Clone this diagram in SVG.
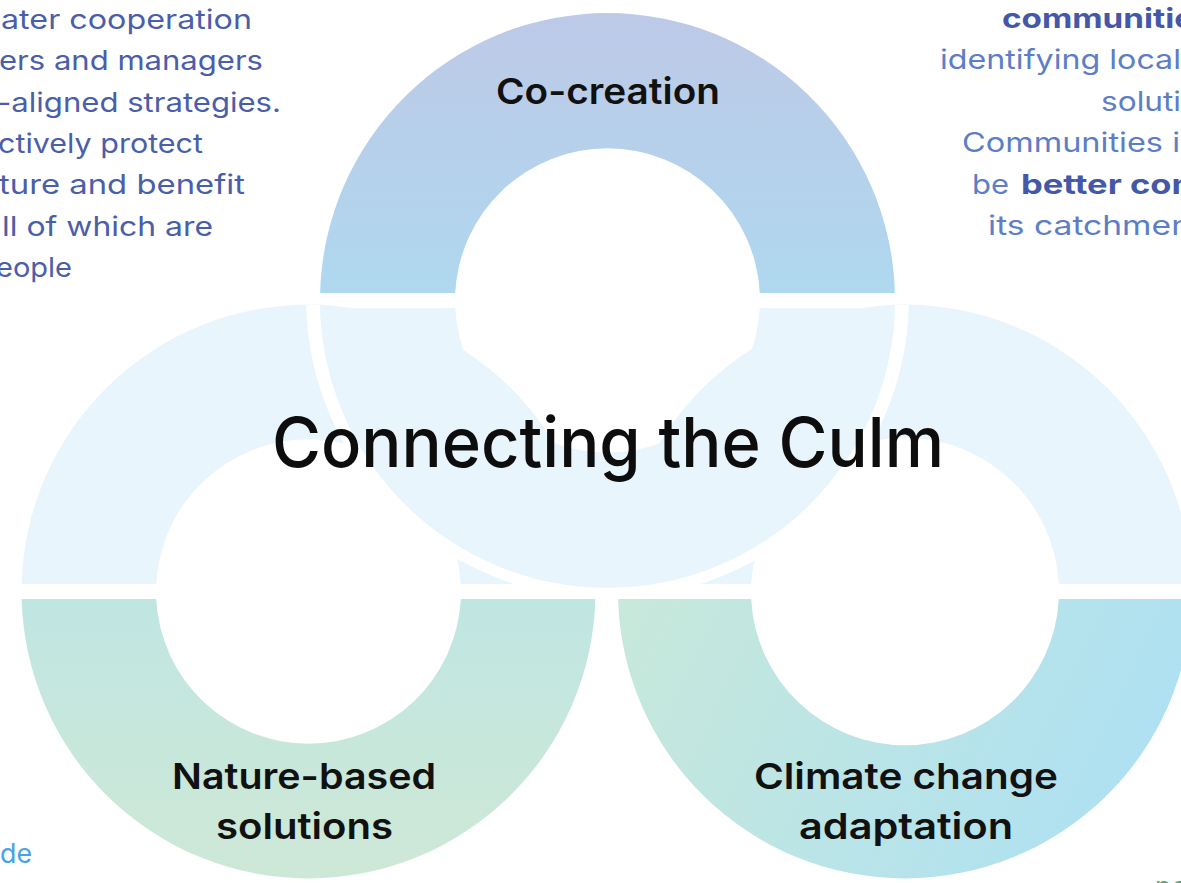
<svg xmlns="http://www.w3.org/2000/svg" width="1181" height="883" viewBox="0 0 1181 883">
  <defs>
    <linearGradient id="gTop" gradientUnits="userSpaceOnUse" x1="0" y1="13" x2="0" y2="293">
      <stop offset="0" stop-color="#bdc9e7"/>
      <stop offset="1" stop-color="#afd8ee"/>
    </linearGradient>
    <linearGradient id="gLeft" gradientUnits="userSpaceOnUse" x1="0" y1="599" x2="0" y2="878">
      <stop offset="0" stop-color="#c0e6e2"/>
      <stop offset="1" stop-color="#cee8d6"/>
    </linearGradient>
    <linearGradient id="gRight" gradientUnits="userSpaceOnUse" x1="640" y1="600" x2="1160" y2="850">
      <stop offset="0" stop-color="#c7e8db"/>
      <stop offset="1" stop-color="#ace0f4"/>
    </linearGradient>
    <style>
      .light { fill: #e8f5fc; }
      .sep { fill: none; stroke: #ffffff; stroke-width: 14; }
      .head { font-family: Inter, "Open Sans", "Liberation Sans", sans-serif; font-weight: 600; font-size: 36px; fill: #111111; text-anchor: middle; }
      .title { font-family: Inter, "Open Sans", "Liberation Sans", sans-serif; font-weight: 500; font-size: 69px; fill: #0d0d0d; text-anchor: middle; }
      .pl { font-family: Inter, "Open Sans", "Liberation Sans", sans-serif; font-weight: 400; font-size: 27px; fill: #4b5ea9; text-anchor: end; }
      .pr { font-family: Inter, "Open Sans", "Liberation Sans", sans-serif; font-weight: 400; font-size: 27px; fill: #5d7ec6; }
      .prb { font-family: Inter, "Open Sans", "Liberation Sans", sans-serif; font-weight: 700; font-size: 27px; fill: #4558a8; }
    </style>
  </defs>
  <rect width="1181" height="883" fill="#ffffff"/>

  <!-- left ring: Nature-based solutions -->
  <g id="ring-nature">
    <path class="light" d="M 21.6,584 A 287 287 0 0 1 595.4,584 L 460.8,584 A 152.5 152.5 0 0 0 156.2,584 Z"/>
    <path fill="url(#gLeft)" d="M 21.6,599 A 287 287 0 0 0 595.4,599 L 460.8,599 A 152.5 152.5 0 0 1 156.2,599 Z"/>
  </g>

  <!-- right ring: Climate change adaptation -->
  <g id="ring-climate">
    <path class="light" d="M 618.1,584 A 287 287 0 0 1 1191.9,584 L 1058.8,584 A 154 154 0 0 0 751.2,584 Z"/>
    <path fill="url(#gRight)" d="M 618.1,599 A 287 287 0 0 0 1191.9,599 L 1058.8,599 A 154 154 0 0 1 751.2,599 Z"/>
  </g>

  <!-- separator and top ring: Co-creation -->
  <g id="connectors">
    <path class="sep" d="M 313.1,305 A 294.5 294.5 0 0 0 901.9,305"/>
  </g>
  <g id="ring-cocreation">
    <path fill="url(#gTop)" d="M 320.1,293 A 287.5 287.5 0 0 1 894.9,293 L 759.8,293 A 152.5 152.5 0 0 0 455.2,293 Z"/>
    <path class="light" d="M 320.1,308 A 287.5 287.5 0 0 0 894.9,308 L 759.8,308 A 152.5 152.5 0 0 1 455.2,308 Z"/>
  </g>

  <!-- ring labels -->
  <g id="label-cocreation">
    <text class="head" x="608" y="104" textLength="224" lengthAdjust="spacingAndGlyphs">Co-creation</text>
  </g>
  <g id="label-title">
    <text class="title" x="608" y="467" textLength="672" lengthAdjust="spacingAndGlyphs">Connecting the Culm</text>
  </g>
  <g id="label-nature">
    <text class="head" x="304" y="789" textLength="264" lengthAdjust="spacingAndGlyphs">Nature-based</text>
    <text class="head" x="304.5" y="839" textLength="177" lengthAdjust="spacingAndGlyphs">solutions</text>
  </g>
  <g id="label-climate">
    <text class="head" x="906" y="789" textLength="304" lengthAdjust="spacingAndGlyphs">Climate change</text>
    <text class="head" x="906" y="839" textLength="214" lengthAdjust="spacingAndGlyphs">adaptation</text>
  </g>

  <!-- left paragraph (cut by the left edge) -->
  <g id="text-left">
    <text class="pl" x="252" y="29" textLength="251" lengthAdjust="spacingAndGlyphs">ater cooperation</text>
    <text class="pl" x="263" y="70" textLength="264" lengthAdjust="spacingAndGlyphs">ers and managers</text>
    <text class="pl" x="281" y="112" textLength="284" lengthAdjust="spacingAndGlyphs">-aligned strategies.</text>
    <text class="pl" x="203" y="153" textLength="205" lengthAdjust="spacingAndGlyphs">ctively protect</text>
    <text class="pl" x="245" y="194" textLength="246" lengthAdjust="spacingAndGlyphs">ture and benefit</text>
    <text class="pl" x="213" y="236" textLength="211" lengthAdjust="spacingAndGlyphs">ll of which are</text>
    <text class="pl" x="72" y="277" textLength="76" lengthAdjust="spacingAndGlyphs">eople</text>
  </g>

  <!-- right paragraph (cut by the right edge) -->
  <g id="text-right">
    <text class="prb" x="1002" y="28" textLength="192" lengthAdjust="spacingAndGlyphs">communitie</text>
    <text class="pr" x="940" y="69" textLength="241" lengthAdjust="spacingAndGlyphs">identifying local</text>
    <text class="pr" x="1101" y="111" textLength="80" lengthAdjust="spacingAndGlyphs">soluti</text>
    <text class="pr" x="962" y="152" textLength="218" lengthAdjust="spacingAndGlyphs">Communities i</text>
    <text class="pr" x="972" y="194" textLength="37" lengthAdjust="spacingAndGlyphs">be</text>
    <text class="prb" x="1021" y="194" textLength="172" lengthAdjust="spacingAndGlyphs">better con</text>
    <text class="pr" x="988" y="235" textLength="203" lengthAdjust="spacingAndGlyphs">its catchmen</text>
  </g>

  <!-- bottom fragments -->
  <g id="text-bottom">
    <text x="0" y="863" font-family="Inter, 'Open Sans', 'Liberation Sans', sans-serif" font-size="27" fill="#47a3e3" textLength="32" lengthAdjust="spacingAndGlyphs">de</text>
    <text x="1155" y="896" font-family="Inter, 'Open Sans', 'Liberation Sans', sans-serif" font-size="27" fill="#58a86c">pe</text>
  </g>
</svg>
